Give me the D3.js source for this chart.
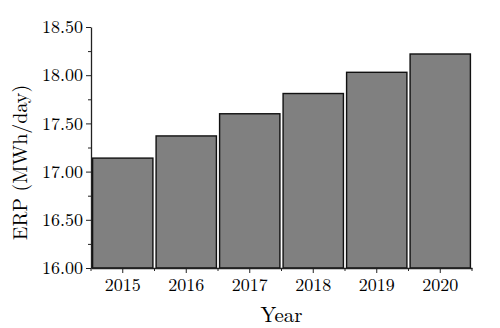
<!DOCTYPE html>
<html>
<head>
<meta charset="utf-8">
<script src="https://cdn.jsdelivr.net/npm/d3@7"></script>
<style>
  body { margin: 0; background: #fff; }
</style>
</head>
<body>
<div class="svgContainer"></div>
<script>
// Data
var YEARS = ["2015", "2016", "2017", "2018", "2019", "2020"];
var ERP = [17.14, 17.37, 17.60, 17.81, 18.03, 18.22];
var Y_TICKS = [16.0, 16.5, 17.0, 17.5, 18.0, 18.5];
var Y_MINOR = [16.25, 16.75, 17.25, 17.75, 18.25];

var FONT = "'Latin Modern Roman', 'Liberation Serif', serif";

var margin = {left: 91, right: 28, top: 27, bottom: 60},
    width = 500 - margin.left - margin.right,
    height = 328 - margin.top - margin.bottom;

var svg = d3.select(".svgContainer").append("svg")
    .attr("width", 500)
    .attr("height", 328)
    .append("g")
    .attr("transform", "translate(" + margin.left + "," + margin.top + ")");

var x = d3.scaleBand()
    .domain(YEARS)
    .range([0, width])
    .paddingInner(0.05)
    .paddingOuter(0.025);

var xTick = d3.scaleBand()
    .domain(YEARS)
    .range([0, width]);

var y = d3.scaleLinear()
    .domain([16, 18.5])
    .range([height, 0]);

// bars
svg.selectAll("rect.bar")
    .data(ERP)
    .enter().append("rect")
    .attr("class", "bar")
    .attr("x", function(d, i) { return x(YEARS[i]); })
    .attr("y", function(d) { return y(d); })
    .attr("width", x.bandwidth())
    .attr("height", function(d) { return height - y(d); })
    .attr("fill", "#808080")
    .attr("stroke", "#111")
    .attr("stroke-width", 1.4);

// y axis
var yAxis = svg.append("g")
    .call(d3.axisLeft(y)
        .tickValues(Y_TICKS)
        .tickFormat(d3.format(".2f"))
        .tickSize(5)
        .tickSizeOuter(0)
        .tickPadding(3));
yAxis.attr("font-family", FONT).attr("font-size", 18);
yAxis.selectAll("text").attr("fill", "#000");

svg.append("g")
    .call(d3.axisLeft(y).tickValues(Y_MINOR).tickSize(3).tickSizeOuter(0).tickFormat(""))
    .select(".domain").remove();

// x axis
var xAxis = svg.append("g")
    .attr("transform", "translate(0," + height + ")")
    .call(d3.axisBottom(xTick)
        .tickSize(5)
        .tickSizeOuter(0)
        .tickPadding(5));
xAxis.attr("font-family", FONT).attr("font-size", 18);
xAxis.selectAll("text").attr("fill", "#000");

// minor ticks at bar boundaries
var xMinor = YEARS.map(function(d) { return xTick(d); }).concat([width]);
svg.append("g")
    .attr("transform", "translate(0," + height + ")")
    .selectAll("line")
    .data(xMinor)
    .enter().append("line")
    .attr("x1", function(d) { return d; })
    .attr("x2", function(d) { return d; })
    .attr("y1", 0)
    .attr("y2", 3)
    .attr("stroke", "#222");

svg.selectAll(".domain").attr("stroke", "#222").attr("stroke-width", 1.3);
svg.selectAll(".tick line").attr("stroke", "#222");

// axis titles
svg.append("text")
    .attr("x", width / 2)
    .attr("y", height + 54)
    .attr("text-anchor", "middle")
    .attr("font-family", FONT)
    .attr("font-size", 21)
    .attr("fill", "#000")
    .text("Year");

svg.append("text")
    .attr("transform", "translate(-64," + (height / 2 + 15) + ") rotate(-90)")
    .attr("text-anchor", "middle")
    .attr("font-family", FONT)
    .attr("font-size", 20)
    .attr("fill", "#000")
    .text("ERP (MWh/day)");
</script>
</body>
</html>
